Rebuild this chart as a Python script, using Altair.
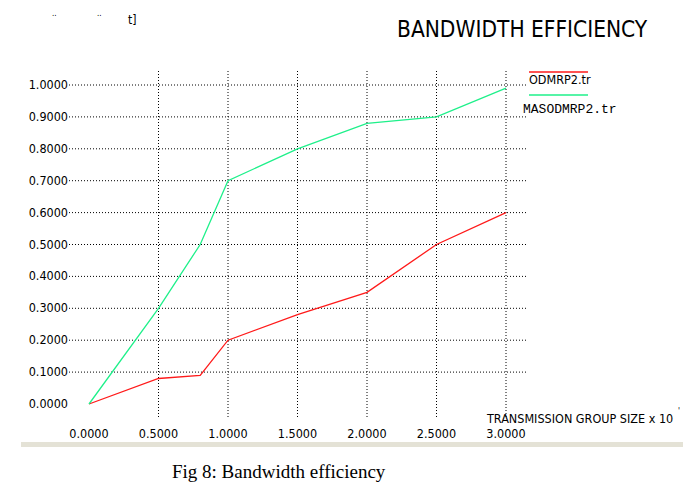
import altair as alt
import pandas as pd

# ---- data ----
group_size = [0.0, 0.5, 0.8, 1.0, 1.5, 2.0, 2.5, 3.0]
odmrp2 = [0.0, 0.08, 0.09, 0.20, 0.28, 0.35, 0.50, 0.60]
masodmrp2 = [0.0, 0.30, 0.50, 0.70, 0.80, 0.88, 0.90, 0.99]
series_names = ["ODMRP2.tr", "MASODMRP2.tr"]
series_colors = ["#ff1a1a", "#1ef08a"]
x_ticks = [0.0, 0.5, 1.0, 1.5, 2.0, 2.5, 3.0]
y_ticks = [0.0, 0.1, 0.2, 0.3, 0.4, 0.5, 0.6, 0.7, 0.8, 0.9, 1.0]
x_grid = [0.5, 1.0, 1.5, 2.0, 2.5, 3.0]
y_grid = [0.1, 0.2, 0.3, 0.4, 0.5, 0.6, 0.7, 0.8, 0.9, 1.0]

NARROW = "Liberation Sans Narrow, DejaVu Sans Condensed, Arial Narrow, sans-serif"

xs = alt.Scale(domain=[0, 3], range=[89, 506])
ys = alt.Scale(domain=[0, 1], range=[404, 85])

rows = []
for name, vals in zip(series_names, [odmrp2, masodmrp2]):
    for xv, yv in zip(group_size, vals):
        rows.append({"x": xv, "y": yv, "series": name})
df = pd.DataFrame(rows)

color = alt.Color("series:N", scale=alt.Scale(domain=series_names, range=series_colors), legend=None)

hgrid = alt.Chart(pd.DataFrame({"y": y_grid})).mark_rule(
    color="black", strokeDash=[1, 2], strokeWidth=1
).encode(y=alt.Y("y:Q", scale=ys, axis=None), x=alt.value(69), x2=alt.value(528))

vgrid = alt.Chart(pd.DataFrame({"x": x_grid})).mark_rule(
    color="black", strokeDash=[1, 2], strokeWidth=1
).encode(x=alt.X("x:Q", scale=xs, axis=None), y=alt.value(71), y2=alt.value(418))

lines = alt.Chart(df).mark_line(strokeWidth=1.3).encode(
    x=alt.X("x:Q", scale=xs, axis=None),
    y=alt.Y("y:Q", scale=ys, axis=None),
    color=color,
    detail="series:N",
)

ylabels = alt.Chart(pd.DataFrame({"y": y_ticks})).mark_text(
    align="right", baseline="middle", font=NARROW, fontSize=12.5, color="black"
).encode(y=alt.Y("y:Q", scale=ys, axis=None), x=alt.value(68), text=alt.Text("y:Q", format=".4f"))

xlabels = alt.Chart(pd.DataFrame({"x": x_ticks})).mark_text(
    align="center", baseline="middle", font=NARROW, fontSize=12.5, color="black"
).encode(x=alt.X("x:Q", scale=xs, axis=None), y=alt.value(434), text=alt.Text("x:Q", format=".4f"))

# legend
leg = pd.DataFrame({"series": series_names, "ly": [72, 95]})
leg_lines = alt.Chart(leg).mark_rule(strokeWidth=1.5).encode(
    x=alt.value(529), x2=alt.value(588), y=alt.Y("ly:Q", scale=None), color=color
)
leg_t1 = alt.Chart(pd.DataFrame({"t": [series_names[0]]})).mark_text(
    align="left", baseline="middle", font=NARROW, fontSize=12.5, color="black"
).encode(x=alt.value(529), y=alt.value(80), text="t:N")
leg_t2 = alt.Chart(pd.DataFrame({"t": [series_names[1]]})).mark_text(
    align="left", baseline="middle", font="Liberation Mono, DejaVu Sans Mono, monospace", fontSize=13, color="black"
).encode(x=alt.value(523), y=alt.value(109), text="t:N")

def label(text, x, y, size, font=NARROW, align="left"):
    return alt.Chart(pd.DataFrame({"t": [text]})).mark_text(
        align=align, baseline="middle", font=font, fontSize=size, color="black"
    ).encode(x=alt.value(x), y=alt.value(y), text="t:N")

title = label("BANDWIDTH EFFICIENCY", 397, 30, 22.5)
xtitle = label("TRANSMISSION GROUP SIZE x 10", 487, 419, 12.5)
sup = label("'", 678, 412, 8)
art = label("t]", 128, 20, 12)
dots1 = label("..", 52, 14, 8)
dots2 = label("..", 97, 14, 8)
caption = label("Fig 8: Bandwidth efficiency", 172, 472, 19, font="Liberation Serif, Times New Roman, serif")

band = alt.Chart(pd.DataFrame({"a": [0]})).mark_rect(color="#e4e2d6").encode(
    x=alt.value(21), x2=alt.value(683), y=alt.value(442), y2=alt.value(447)
)

chart = alt.layer(
    band, hgrid, vgrid, lines, ylabels, xlabels, leg_lines, leg_t1, leg_t2,
    title, xtitle, sup, art, dots1, dots2, caption
).properties(
    width=683, height=497, padding=0, autosize=alt.AutoSizeParams(type="none"),
    background="white"
).configure_view(stroke=None)

chart.save("out.html", embed_options={"renderer": "svg", "actions": False})
